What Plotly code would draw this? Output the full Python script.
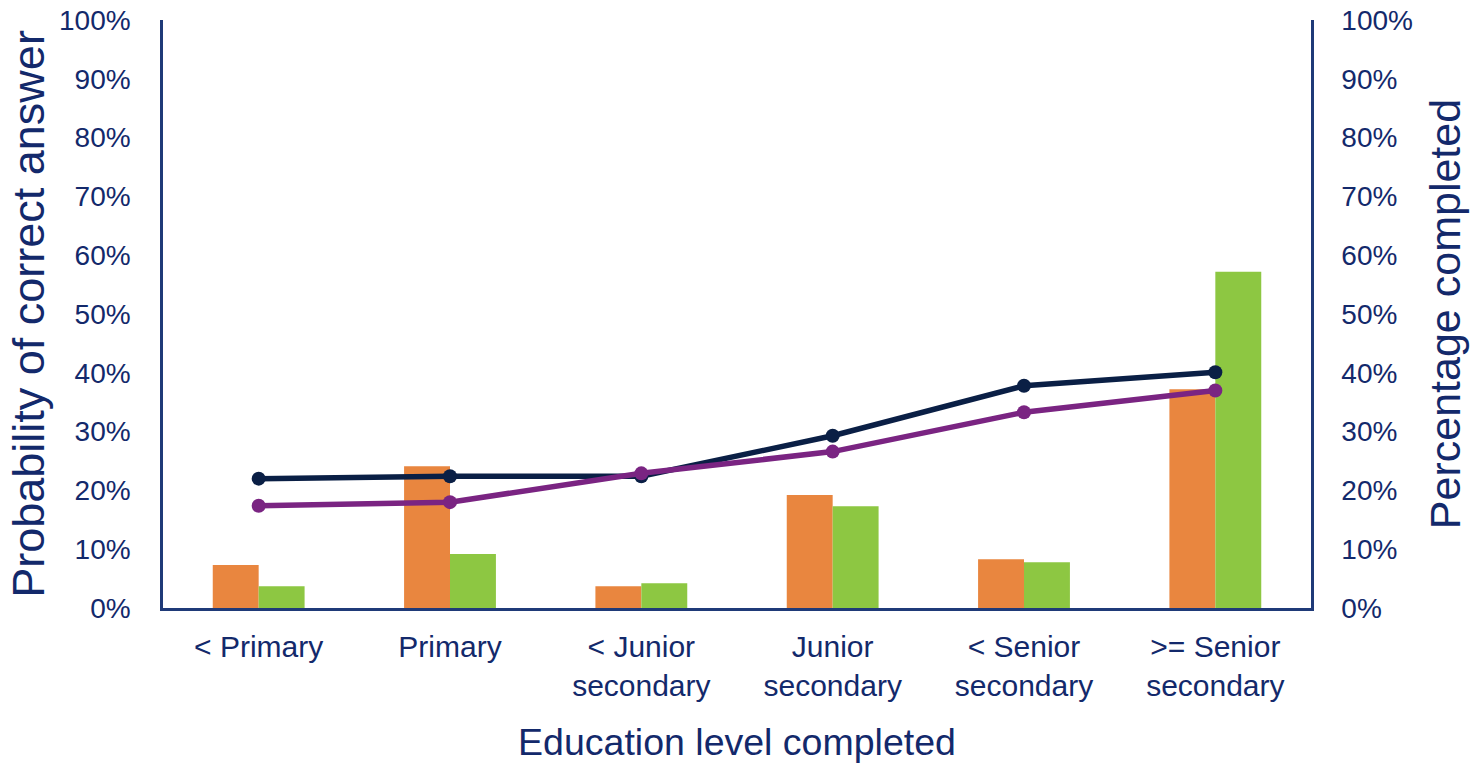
import plotly.graph_objects as go

categories = ["< Primary", "Primary", "< Junior<br>secondary", "Junior<br>secondary",
              "< Senior<br>secondary", ">= Senior<br>secondary"]
pct_completed_a = [0.073, 0.241, 0.037, 0.192, 0.083, 0.372]   # orange bars
pct_completed_b = [0.037, 0.092, 0.042, 0.173, 0.078, 0.572]   # green bars
prob_correct_a = [0.220, 0.224, 0.224, 0.293, 0.378, 0.401]    # navy line
prob_correct_b = [0.174, 0.180, 0.229, 0.266, 0.333, 0.370]    # purple line

text_col = "#13296B"
axis_col = "#1F3A78"
font_family = "Liberation Sans, Arial, sans-serif"

fig = go.Figure()
fig.add_trace(go.Bar(x=categories, y=pct_completed_a, marker_color="#E9863F",
                     marker_line_width=0, yaxis="y", name="A completed"))
fig.add_trace(go.Bar(x=categories, y=pct_completed_b, marker_color="#8DC742",
                     marker_line_width=0, yaxis="y", name="B completed"))
fig.add_trace(go.Scatter(x=categories, y=prob_correct_a, mode="lines+markers",
                         line=dict(color="#0A1F45", width=5.5),
                         marker=dict(size=14, color="#0A1F45"), yaxis="y2", name="A prob"))
fig.add_trace(go.Scatter(x=categories, y=prob_correct_b, mode="lines+markers",
                         line=dict(color="#7A2482", width=5.5),
                         marker=dict(size=14, color="#7A2482"), yaxis="y2", name="B prob"))

fig.update_layout(
    width=1474, height=769,
    margin=dict(l=163, r=163, t=20, b=161),
    paper_bgcolor="white", plot_bgcolor="white",
    showlegend=False,
    barmode="group", bargap=0.52, bargroupgap=0,
    font=dict(family=font_family, color=text_col),
    xaxis=dict(
        automargin=False,
        showline=True, linecolor=axis_col, linewidth=2.5, mirror=False,
        showgrid=False, ticks="", tickfont=dict(size=30, color=text_col),
        ticklabelstandoff=10,
        title=dict(text="Education level completed", font=dict(size=37.5, color=text_col), standoff=28),
    ),
    yaxis=dict(
        automargin=False,
        range=[0, 1], dtick=0.1, tickformat=".0%", showgrid=False, zeroline=False,
        showline=True, linecolor=axis_col, linewidth=2.5, ticks="",
        tickfont=dict(size=28, color=text_col), ticklabelstandoff=24,
        title=dict(text="Probability of correct answer", font=dict(size=45, color=text_col), standoff=1),
    ),
    yaxis2=dict(
        automargin=False,
        range=[0, 1], dtick=0.1, tickformat=".0%", showgrid=False, zeroline=False,
        overlaying="y", side="right",
        showline=True, linecolor=axis_col, linewidth=2.5, ticks="",
        tickfont=dict(size=28, color=text_col), ticklabelstandoff=22,
        title=dict(text="Percentage completed", font=dict(size=43, color=text_col), standoff=18),
    ),
)

fig.write_html("out.html")
